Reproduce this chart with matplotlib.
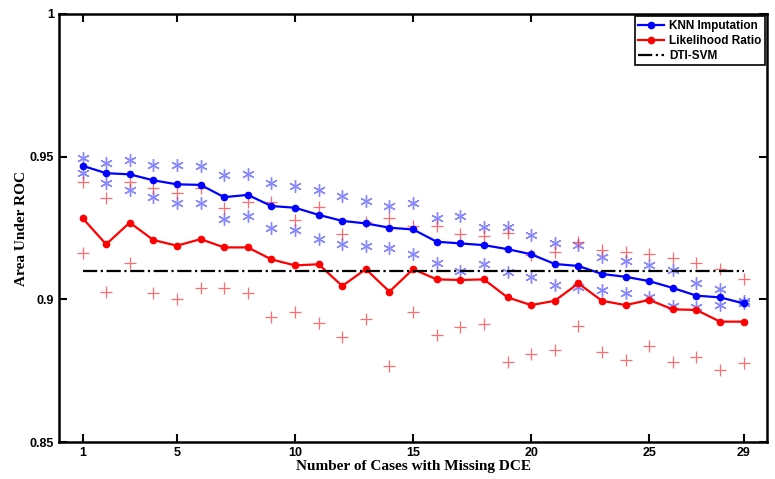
import matplotlib
matplotlib.use("Agg")
import matplotlib.pyplot as plt
import numpy as np

cases = np.arange(1, 30)

# mean AUC curves
knn = [0.9468, 0.9442, 0.9438, 0.9417, 0.9403, 0.9401, 0.9358, 0.9366, 0.9327, 0.9321,
       0.9296, 0.9275, 0.9266, 0.9251, 0.9245, 0.9202, 0.9196, 0.9190, 0.9176, 0.9158,
       0.9124, 0.9117, 0.9089, 0.9079, 0.9064, 0.9040, 0.9013, 0.9007, 0.8986]
lr = [0.9285, 0.9193, 0.9269, 0.9208, 0.9188, 0.9211, 0.9182, 0.9182, 0.9140, 0.9119,
      0.9123, 0.9047, 0.9106, 0.9027, 0.9106, 0.9070, 0.9068, 0.9070, 0.9007, 0.8980,
      0.8995, 0.9056, 0.8995, 0.8980, 0.8998, 0.8965, 0.8963, 0.8922, 0.8922]

# spread markers
knn_hi = [0.9494, 0.9477, 0.9488, 0.9471, 0.9471, 0.9467, 0.9436, 0.9438, 0.9409, 0.9398,
          0.9383, 0.9362, 0.9346, 0.9327, 0.9337, 0.9284, 0.9292, 0.9255, 0.9255, 0.9226,
          0.9196, 0.9190, 0.9147, 0.9134, 0.9120, 0.9103, 0.9056, 0.9035, 0.8994]
knn_lo = [0.9442, 0.9407, 0.9383, 0.9360, 0.9337, 0.9337, 0.9282, 0.9292, 0.9249, 0.9243,
          0.9210, 0.9193, 0.9187, 0.9181, 0.9158, 0.9126, 0.9100, 0.9124, 0.9097, 0.9079,
          0.9050, 0.9044, 0.9033, 0.9021, 0.9009, 0.8977, 0.8974, 0.8980, 0.8986]
lr_hi = [0.9410, 0.9354, 0.9410, 0.9389, 0.9372, 0.9389, 0.9319, 0.9342, 0.9340, 0.9278,
         0.9325, 0.9229, 0.9272, 0.9284, 0.9257, 0.9257, 0.9229, 0.9222, 0.9231, 0.9155,
         0.9167, 0.9202, 0.9173, 0.9167, 0.9159, 0.9144, 0.9126, 0.9105, 0.9071]
lr_lo = [0.9161, 0.9027, 0.9126, 0.9021, 0.9000, 0.9039, 0.9039, 0.9021, 0.8939, 0.8957,
         0.8918, 0.8869, 0.8930, 0.8767, 0.8957, 0.8875, 0.8904, 0.8914, 0.8781, 0.8808,
         0.8822, 0.8907, 0.8816, 0.8789, 0.8837, 0.8781, 0.8799, 0.8752, 0.8776]

dti_svm = 0.91

fig = plt.figure(figsize=(7.75, 4.79), dpi=100)
ax = fig.add_axes([0.076, 0.077, 0.914, 0.894])

star = (6, 2, 0)  # asterisk like matlab '*'
ax.plot(cases, knn_hi, ls="none", marker=star, color="#3a3aff", alpha=0.6, ms=9, mew=1.0)
ax.plot(cases, knn_lo, ls="none", marker=star, color="#3a3aff", alpha=0.6, ms=9, mew=1.0)
ax.plot(cases, lr_hi, ls="none", marker="+", color="#ff3030", alpha=0.7, ms=9, mew=0.9)
ax.plot(cases, lr_lo, ls="none", marker="+", color="#ff3030", alpha=0.7, ms=9, mew=0.9)

ax.plot(cases, knn, "-o", color="blue", lw=1.6, ms=4.5, label="KNN Imputation")
ax.plot(cases, lr, "-o", color="red", lw=1.6, ms=4.5, label="Likelihood Ratio")
ax.plot([cases[0], cases[-1]], [dti_svm, dti_svm], "-.", color="black", lw=1.6,
        label="DTI-SVM")

ax.set_xlim(0, 30)
ax.set_ylim(0.85, 1)
ax.set_xticks([1, 5, 10, 15, 20, 25, 29])
ax.set_yticks([0.85, 0.9, 0.95, 1])
ax.set_yticklabels(["0.85", "0.9", "0.95", "1"])
ax.tick_params(direction="in", top=True, right=True, length=6, width=1.5, labelsize=9)
for lab in ax.get_xticklabels() + ax.get_yticklabels():
    lab.set_fontweight("bold")
    lab.set_family("Liberation Sans")
for s in ax.spines.values():
    s.set_linewidth(1.8)

ax.set_xlabel("Number of Cases with Missing DCE", family="Liberation Serif",
              fontweight="bold", fontsize=11, labelpad=1)
ax.set_ylabel("Area Under ROC", family="Liberation Serif", fontweight="bold",
              fontsize=11, labelpad=1)

leg = ax.legend(loc="upper right", prop={"family": "Liberation Sans", "weight": "bold", "size": 8.5},
                fancybox=False, edgecolor="black", handlelength=2.2, borderaxespad=0.2,
                borderpad=0.3, labelspacing=0.25, handletextpad=0.4, framealpha=1)
leg.get_frame().set_linewidth(1.2)

fig.savefig("out.png", dpi=100)
